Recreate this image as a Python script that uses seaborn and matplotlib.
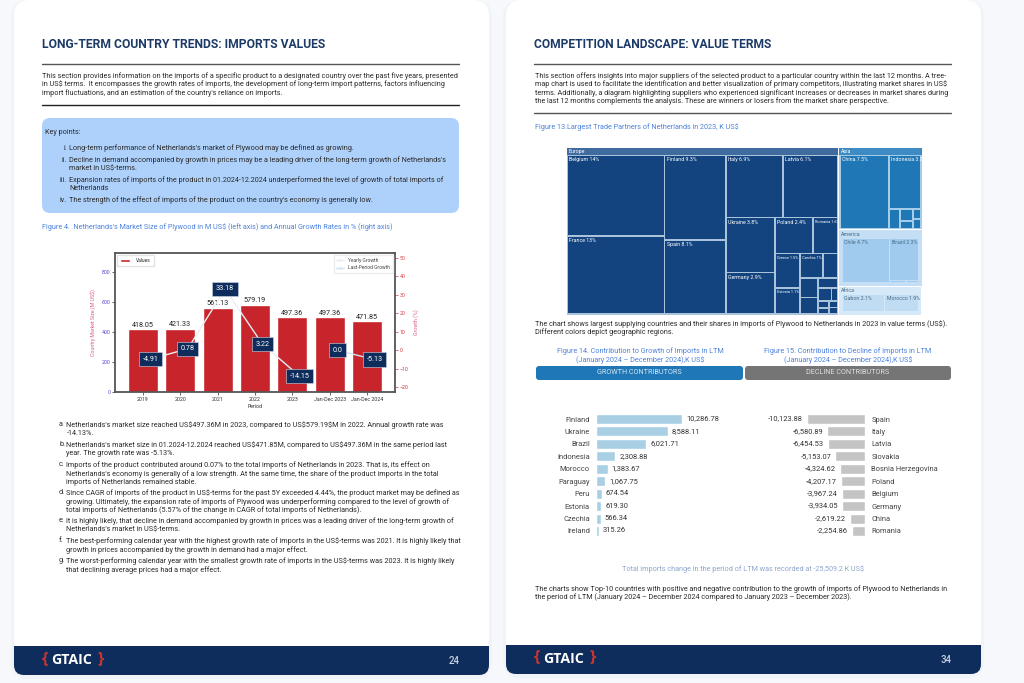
import matplotlib
matplotlib.use('Agg')
from matplotlib import pyplot as plt
from matplotlib.patches import FancyBboxPatch, Rectangle
import numpy as np, pandas as pd
import seaborn as sns

W, H = 1024, 683

# figure 4 data
periods = ['2019', '2020', '2021', '2022', '2023', 'Jan-Dec 2023', 'Jan-Dec 2024']
market_size = [418.05, 421.33, 561.13, 579.19, 497.36, 497.36, 471.85]
yearly_growth = [-4.91, 0.78, 33.18, 3.22, -14.15]
last_period_growth = [0.0, -5.13]

# figure 13 data, share of imports in %
europe_values = [14, 13.5, 9.3, 8.1, 6.3, 6.1, 4.8, 3.6, 2.4, 1.6, 1.5, 1.15, 1.0, 0.64, 0.64, 0.54, 0.35, 0.32, 0.15, 0.13, 0.12, 0.1, 0.1]
europe_labels = ['Belgium 14%', 'France 13%', 'Finland 9.3%', 'Spain 8.1%', 'Italy 6.9%', 'Latvia 6.1%', 'Ukraine 3.8%', 'Germany 2.9%', 'Poland 2.4%', 'Romania 1.6%', 'Greece 1.5%', 'Estonia 1.1%', 'Czechia 1%']
asia_values = [7.0, 3.3, 0.4, 0.3, 0.2, 0.15, 0.15]
asia_labels = ['China 7.5%', 'Indonesia 3.0%']
america_values = [4.8, 2.8, 0.1, 0.08]
america_labels = ['Chile 4.7%', 'Brazil 2.3%']
africa_values = [2.2, 1.8]
africa_labels = ['Gabon 2.1%', 'Morocco 1.9%']

# figure 14 / 15 data
growth_names = ['Finland', 'Ukraine', 'Brazil', 'Indonesia', 'Morocco', 'Paraguay', 'Peru', 'Estonia', 'Czechia', 'Ireland']
growth_values = [10286.78, 8588.11, 6021.71, 2308.88, 1383.67, 1067.75, 674.54, 619.30, 566.34, 315.26]
decline_names = ['Spain', 'Italy', 'Latvia', 'Slovakia', 'Bosnia Herzegovina', 'Poland', 'Belgium', 'Germany', 'China', 'Romania']
decline_values = [-10123.88, -6580.89, -6454.53, -5153.07, -4324.62, -4207.17, -3967.24, -3934.05, -2619.22, -2254.86]

left_intro = [
    'This section provides information on the imports of a specific product to a designated country over the past five years, presented',
    'in US$ terms.  It encompasses the growth rates of imports, the development of long-term import patterns, factors influencing',
    "import fluctuations, and an estimation of the country's reliance on imports.",
]
key_points = [
    ('i.', ["Long-term performance of Netherlands's market of Plywood may be defined as growing."], 148),
    ('ii.', ["Decline in demand accompanied by growth in prices may be a leading driver of the long-term growth of Netherlands's", 'market in US$-terms.'], 160),
    ('iii.', ['Expansion rates of imports of the product in 01.2024-12.2024 underperformed the level of growth of total imports of', 'Netherlands'], 180),
    ('iv.', ["The strength of the effect of imports of the product on the country's economy is generally low."], 200),
]
left_body = [
    ('a.', ["Netherlands's market size reached US$497.36M in 2023, compared to US$579.19$M in 2022. Annual growth rate was", '-14.13%.'], 425),
    ('b.', ["Netherlands's market size in 01.2024-12.2024 reached US$471.85M, compared to US$497.36M in the same period last", 'year. The growth rate was -5.13%.'], 445),
    ('c.', ['Imports of the product contributed around 0.07% to the total imports of Netherlands in 2023. That is, its effect on', "Netherlands's economy is generally of a low strength. At the same time, the share of the product imports in the total", 'imports of Netherlands remained stable.'], 465),
    ('d.', ['Since CAGR of imports of the product in US$-terms for the past 5Y exceeded 4.44%, the product market may be defined as', 'growing. Ultimately, the expansion rate of imports of Plywood was underperforming compared to the level of growth of', 'total imports of Netherlands (5.57% of the change in CAGR of total imports of Netherlands).'], 493),
    ('e.', ['It is highly likely, that decline in demand accompanied by growth in prices was a leading driver of the long-term growth of', "Netherlands's market in US$-terms."], 521),
    ('f.', ['The best-performing calendar year with the highest growth rate of imports in the US$-terms was 2021. It is highly likely that', 'growth in prices accompanied by the growth in demand had a major effect.'], 541),
    ('g.', ['The worst-performing calendar year with the smallest growth rate of imports in the US$-terms was 2023. It is highly likely', 'that declining average prices had a major effect.'], 561),
]
right_intro = [
    'This section offers insights into major suppliers of the selected product to a particular country within the last 12 months. A tree-',
    'map chart is used to facilitate the identification and better visualization of primary competitors, illustrating market shares in US$',
    'terms. Additionally, a diagram highlighting suppliers who experienced significant increases or decreases in market shares during',
    'the last 12 months complements the analysis. These are winners or losers from the market share perspective.',
]

sns.set_theme(style='white')
plt.rcParams['font.family'] = ['Roboto', 'DejaVu Sans']

NAVY = '#0f2d5c'
TITLE = '#1c3a68'
BLUE = '#4d82dc'
BODY = '#2a2a2a'
SZ = 5.2

fig = plt.figure(figsize=(W / 100, H / 100), dpi=100, facecolor='#f6f8fb')
page = fig.add_axes([0, 0, 1, 1])
page.set_xlim(0, W)
page.set_ylim(H, 0)
page.axis('off')


def box(x0, y0, x1, y1, color, r=8, z=1, alpha=1):
    p = FancyBboxPatch((x0 + r, y0 + r), x1 - x0 - 2 * r, y1 - y0 - 2 * r, boxstyle=f'round,pad={r},rounding_size={r}',
                       fc=color, ec='none', alpha=alpha, zorder=z)
    page.add_patch(p)


def txt(x, y, s, size=SZ, color=BODY, **kw):
    kw.setdefault('ha', 'left')
    kw.setdefault('va', 'center')
    return page.text(x, y, s, fontsize=size, color=color, zorder=5, parse_math=False, **kw)


def inset(x0, y0, x1, y1):
    return fig.add_axes([x0 / W, 1 - y1 / H, (x1 - x0) / W, (y1 - y0) / H])


def draw_page(x0, x1, foot_y, bottom, number, title, title_w, rule_ys):
    box(x0 - 3, 0, x1 + 3, bottom + 4, '#e9eef4', r=18, z=1, alpha=0.45)
    box(x0, 0, x1, bottom, 'white', r=16, z=2)
    box(x0, foot_y, x1, bottom, NAVY, r=10, z=3)
    page.add_patch(Rectangle((x0, foot_y), x1 - x0, 14, fc=NAVY, ec='none', zorder=3))
    lx = x0 + 28
    t = txt(lx, 45, title, size=9.3, color=TITLE, fontweight='bold')
    # squeeze the heading to the width it has on the page
    w = t.get_window_extent(fig.canvas.get_renderer()).width
    t.set_fontsize(9.3 * title_w / w)
    for y, c in rule_ys:
        page.plot([lx, lx + 417], [y, y], color=c, lw=1.0, zorder=4)
    # logo
    txt(x0 + 28, foot_y + 13.5, '{', size=11.5, color='#c8352e', family='Open Sans', fontweight='bold')
    txt(x0 + 37, foot_y + 14, 'GTAIC', size=10.2, color='white', fontweight='bold', family='Open Sans')
    txt(x0 + 83, foot_y + 13.5, '}', size=11.5, color='#c8352e', family='Open Sans', fontweight='bold')
    txt(x1 - 40, foot_y + 15, number, size=7, color='#c9d2e0', fontweight='medium')


draw_page(14, 489, 646, 675, '24', 'LONG-TERM COUNTRY TRENDS: IMPORTS VALUES', 283, [(63.5, '#555555'), (105, '#222222')])
draw_page(506, 981, 645, 674, '34', 'COMPETITION LANDSCAPE: VALUE TERMS', 238, [(64, '#555555'), (113, '#555555')])

# left page text
for i, line in enumerate(left_intro):
    txt(42, 76 + i * 8.6, line)
box(42, 118, 459, 213, '#aed1fb', r=8, z=3)
txt(45, 132, 'Key points:')
for num, lines, y in key_points:
    txt(67, y, num, ha='right')
    for i, line in enumerate(lines):
        txt(69, y + i * 8.4, line)
txt(42, 227, "Figure 4.  Netherlands's Market Size of Plywood in M US$ (left axis) and Annual Growth Rates in % (right axis)", color=BLUE)
for letter, lines, y in left_body:
    txt(59, y, letter)
    for i, line in enumerate(lines):
        txt(66.5, y + i * 8.7, line)

# right page text
for i, line in enumerate(right_intro):
    txt(535, 76 + i * 8.4, line)
txt(535, 127, 'Figure 13.Largest Trade Partners of Netherlands in 2023, K US$', color=BLUE)
txt(535, 324, 'The chart shows largest supplying countries and their shares in imports of Plywood to Netherlands in 2023 in value terms (US$).')
txt(535, 332.5, 'Different colors depict geographic regions.')
txt(640, 351, 'Figure 14. Contribution to Growth of Imports in LTM', color=BLUE, ha='center')
txt(640, 360, '(January 2024 – December 2024),K US$', color=BLUE, ha='center')
txt(848, 351, 'Figure 15. Contribution to Decline of Imports in LTM', color=BLUE, ha='center')
txt(848, 360, '(January 2024 – December 2024),K US$', color=BLUE, ha='center')
box(536, 366, 743, 380, '#1f77b8', r=3, z=3)
box(745, 366, 951, 380, '#757575', r=3, z=3)
txt(639.5, 373, 'GROWTH CONTRIBUTORS', color='#d5e6f3', ha='center', size=5.2)
txt(848, 373, 'DECLINE CONTRIBUTORS', color='#e0e0e0', ha='center', size=5.2)
txt(743, 569, 'Total imports change in the period of LTM was recorded at -25,509.2 K US$', color='#8fa6cc', ha='center')
txt(535, 589, 'The charts show Top-10 countries with positive and negative contribution to the growth of imports of Plywood to Netherlands in')
txt(535, 597.5, 'the period of LTM (January 2024 – December 2024 compared to January 2023 – December 2023).')

# figure 4
ax = inset(115, 253, 395, 392)
sns.barplot(x=periods, y=market_size, color='#c8242b', saturation=1, width=0.8, ax=ax, label='Values')
ax.set_xlim(-0.75, 6.75)
ax.set_ylim(0, 927)
ax.set_yticks([0, 200, 400, 600, 800])
ax.tick_params(axis='y', labelsize=3.8, labelcolor='#5a45c8', length=2, width=0.5, pad=1.5, left=True)
ax.tick_params(axis='x', labelsize=3.8, labelcolor='#333333', length=2, width=0.5, pad=1.5, bottom=True)
ax.set_xlabel('Period', fontsize=3.8, color='#333333', labelpad=1.5)
ax.set_ylabel('Country Market Size (M US$)', fontsize=3.8, color='#d9607c', labelpad=4, parse_math=False)
ax.bar_label(ax.containers[0], fmt='%.2f', fontsize=5.2, color='#222222', padding=0.5)
for s in ax.spines.values():
    s.set_color('#555555')
    s.set_linewidth(1.3)
ax.legend(loc='upper left', fontsize=3.5, frameon=True, edgecolor='#dddddd', fancybox=False, borderpad=0.6, handlelength=2, handletextpad=1.2)

# growth line sits a little right of the bars on the twin axis
ax2 = ax.twinx()
x_pos = np.arange(len(periods)) + 0.2
growth = pd.DataFrame({'x': x_pos[:5], 'y': yearly_growth})
growth_last = pd.DataFrame({'x': x_pos[5:], 'y': last_period_growth})
sns.lineplot(data=growth, x='x', y='y', color='#e8eef4', lw=1.0, marker='o', ms=2, mec='none', ax=ax2, label='Yearly Growth')
sns.lineplot(data=growth_last, x='x', y='y', color='#cfe6f5', lw=1.0, marker='o', ms=2, mec='none', ax=ax2, label='Last-Period Growth')
ax2.set_ylim(-22.7, 52.7)
ax2.set_yticks([-20, -10, 0, 10, 20, 30, 40, 50])
ax2.tick_params(axis='y', labelsize=3.8, labelcolor='#d23b3b', length=2, width=0.5, pad=1.5, right=True, color='#d23b3b')
ax2.set_xlabel('')
ax2.set_ylabel('Growth (%)', fontsize=3.8, color='#d9607c', labelpad=3)
for s in ax2.spines.values():
    s.set_visible(False)
ax2.legend(loc='upper right', fontsize=3.5, frameon=True, edgecolor='#e8e8e8', fancybox=False, borderpad=0.5, labelspacing=0.5, handlelength=1.6, labelcolor='#444444')
for xs, ys in [(x_pos[:5], yearly_growth), (x_pos[5:], last_period_growth)]:
    for xv, yv in zip(xs, ys):
        ax2.text(xv, yv, f'{yv}', ha='center', va='center', fontsize=5.2, color='white', zorder=6,
                 bbox=dict(boxstyle='square,pad=0.5', fc=NAVY, ec='#cfd8e6', lw=0.4))


# treemap, squarified from the values
def squarify(values, x, y, w, h):
    vals = sorted(values, reverse=True)
    scale = w * h / sum(vals)
    areas = [v * scale for v in vals]
    rects = []
    while areas:
        side = min(w, h)
        row = [areas[0]]
        i = 1

        def worst(r):
            s = sum(r)
            return max(side * side * max(r) / (s * s), s * s / (side * side * min(r)))
        while i < len(areas) and worst(row + [areas[i]]) <= worst(row):
            row.append(areas[i])
            i += 1
        s = sum(row)
        if w >= h:
            cw = s / h
            cy = y
            for a in row:
                rects.append((x, cy, cw, a / cw))
                cy += a / cw
            x += cw
            w -= cw
        else:
            ch = s / w
            cx = x
            for a in row:
                rects.append((cx, y, a / ch, ch))
                cx += a / ch
            y += ch
            h -= ch
        areas = areas[i:]
    return rects


tx0, ty0, tx1, ty1 = 566, 147, 922, 315
tm = inset(tx0, ty0, tx1, ty1)
tm.set_xlim(tx0, tx1)
tm.set_ylim(ty1, ty0)
tm.axis('off')
groups = [
    ('Europe', europe_values, europe_labels, '#3f6b9e', '#13447f', '#a9c3da', 'white', 1),
    ('Asia', asia_values, asia_labels, '#3e8ac2', '#1f77b5', '#a3cde9', 'white', 1),
    ('America', america_values, america_labels, '#c3def5', '#a0cbee', '#c3def5', '#4a6a85', 3),
    ('Africa', africa_values, africa_labels, '#d6e9f8', '#c0dcf3', '#d6e9f8', '#4a6a85', 3),
]
totals = [sum(g[1]) for g in groups]
for g, (gx, gy, gw, gh) in zip(groups, squarify(totals, tx0, ty0, tx1 - tx0, ty1 - ty0)):
    name, vals, labels, head, cell, gap, tc, pad = g
    tm.add_patch(Rectangle((gx + 0.5, gy + 0.5), gw - 1, gh - 1, fc=gap, ec='none'))
    tm.add_patch(Rectangle((gx + 0.5, gy + 0.5), gw - 1, 7.6, fc=head, ec='none'))
    tm.text(gx + 2.5, gy + 4.2, name, fontsize=3.8, color=tc, va='center')
    rects = squarify(vals, gx + pad, gy + 8, gw - 2 * pad, gh - 8 - pad)
    for j, (rx, ry, rw, rh) in enumerate(rects):
        tm.add_patch(Rectangle((rx + 0.8, ry + 0.8), rw - 1.6, rh - 1.6, fc=cell, ec='none'))
        if j < len(labels):
            size = 3.8 if rw > 28 else 2.8
            tm.text(rx + 2.2, ry + 4.6, labels[j], fontsize=size, color=tc, va='center', clip_on=True)

# figure 14
top, bottom = 419 - 6.2, 531 + 6.2
ax14 = inset(596, top, 800, bottom)
sns.barplot(x=growth_values, y=growth_names, color='#a9cfe4', saturation=1, width=0.8, orient='h', ax=ax14)
ax14.set_xlim(0, growth_values[0] * 204 / 86)
ax14.bar_label(ax14.containers[0], fmt='{:,.2f}', fontsize=5.4, color='#333333', padding=3)

# figure 15
ax15 = inset(660, top, 865, bottom)
sns.barplot(x=decline_values, y=decline_names, color='#c4c4c4', saturation=1, width=0.8, orient='h', ax=ax15)
ax15.set_xlim(decline_values[0] * 205 / 58, 0)
ax15.yaxis.tick_right()
ax15.bar_label(ax15.containers[0], fmt='{:,.2f}', fontsize=5.4, color='#333333', padding=3)

for a in (ax14, ax15):
    a.patch.set_alpha(0)
    a.set_xticks([])
    a.tick_params(axis='y', length=0, pad=4.5, labelsize=5.4, labelcolor='#444444')
    sns.despine(ax=a, left=True, bottom=True)

fig.savefig('out.png', dpi=100, facecolor=fig.get_facecolor())
